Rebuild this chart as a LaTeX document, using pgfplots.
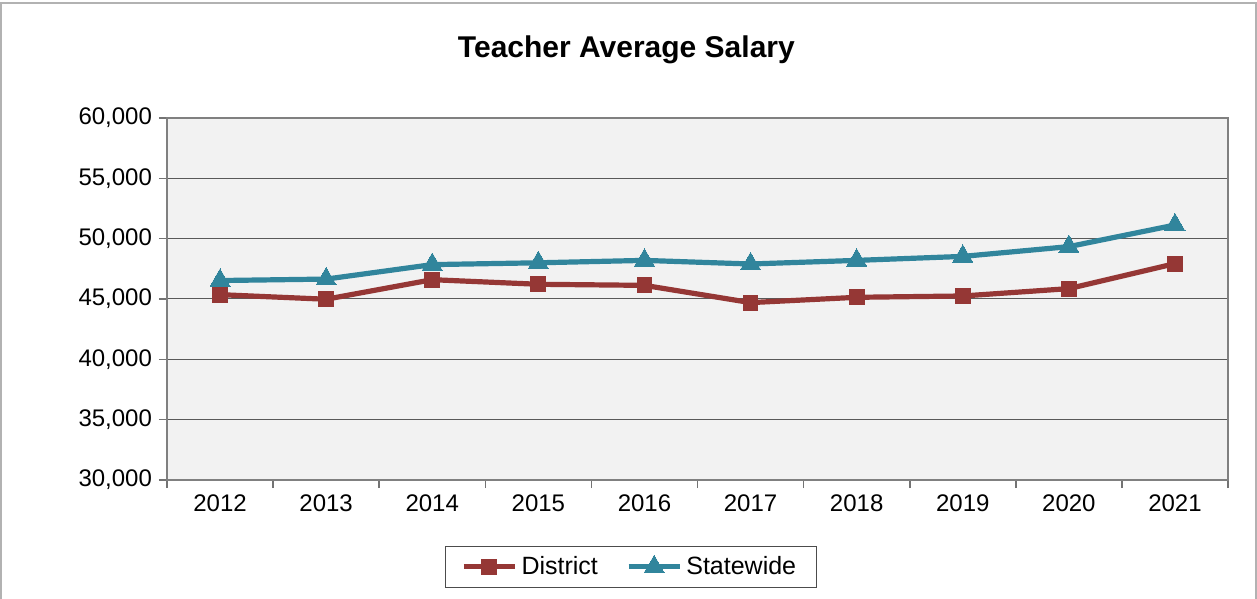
\documentclass[border=0pt]{standalone}
\usepackage{fontspec}
\setmainfont{Liberation Sans}
\usepackage{pgfplots}
\pgfplotsset{compat=1.18}

\definecolor{district}{HTML}{953735}
\definecolor{statewide}{HTML}{31859C}
\definecolor{plotbg}{HTML}{F2F2F2}

\begin{document}
\begin{tikzpicture}[x=1pt,y=1pt]
\begin{axis}[
    scale only axis, width=530.5pt, height=181pt,
    xmin=-0.5, xmax=9.5, ymin=30000, ymax=60000,
    xtick={0,...,9},
    xticklabels={2012,2013,2014,2015,2016,2017,2018,2019,2020,2021},
    minor xtick={-0.5,0.5,...,9.5},
    ytick={30000,35000,...,60000},
    scaled y ticks=false,
    yticklabel style={/pgf/number format/.cd, fixed, 1000 sep={,}, assume math mode=true},
    xticklabel style={/pgf/number format/assume math mode=true},
    tick label style={font=\fontsize{12}{14}\selectfont},
    tick pos=left, tick align=outside,
    major tick length=4pt, minor tick length=4pt,
    x tick style={draw=none},
    minor x tick style={draw=black!55, line width=0.8pt},
    y tick style={draw=black!55, line width=0.8pt},
    ymajorgrids, grid style={black!65, line width=0.5pt},
    axis line style={draw=black!50, line width=1pt},
    axis background/.style={fill=plotbg},
    title={Teacher Average Salary},
    title style={at={(0.433,1.155)}, anchor=center, font=\fontsize{15}{18}\selectfont\bfseries},
    legend columns=2,
    legend style={at={(0.437,-0.24)}, anchor=center, draw=black!70, line width=0.6pt,
        font=\fontsize{12.5}{15}\selectfont, inner xsep=8pt, inner ysep=3pt,
        /tikz/every even column/.append style={column sep=12pt}},
    legend image code/.code={\draw[#1, mark repeat=2, mark phase=2]
        plot coordinates {(0cm,0cm) (0.45cm,0cm) (0.9cm,0cm)};},
    clip=false,
]
\coordinate (O) at (rel axis cs:0,0);
\addplot[color=district, line width=2.6pt, mark=square*, mark size=3.7pt,
    mark options={line width=0pt}] coordinates {
    (0,45360) (1,44980) (2,46600) (3,46220) (4,46130)
    (5,44700) (6,45140) (7,45250) (8,45860) (9,47930)
};
\addplot[color=statewide, line width=2.6pt, mark=triangle*, mark size=5.8pt,
    mark options={line width=0pt}] coordinates {
    (0,46530) (1,46650) (2,47850) (3,48000) (4,48200)
    (5,47900) (6,48200) (7,48530) (8,49340) (9,51130)
};
\legend{District, Statewide}
\end{axis}
\pgfresetboundingbox
\path[use as bounding box] ([shift={(-83.5pt,-59.5pt)}]O) rectangle ([shift={(545pt,240pt)}]O);
\draw[black!30, line width=0.6pt] ([shift={(-83pt,-65pt)}]O) rectangle ([shift={(544.5pt,238.5pt)}]O);
\end{tikzpicture}
\end{document}
